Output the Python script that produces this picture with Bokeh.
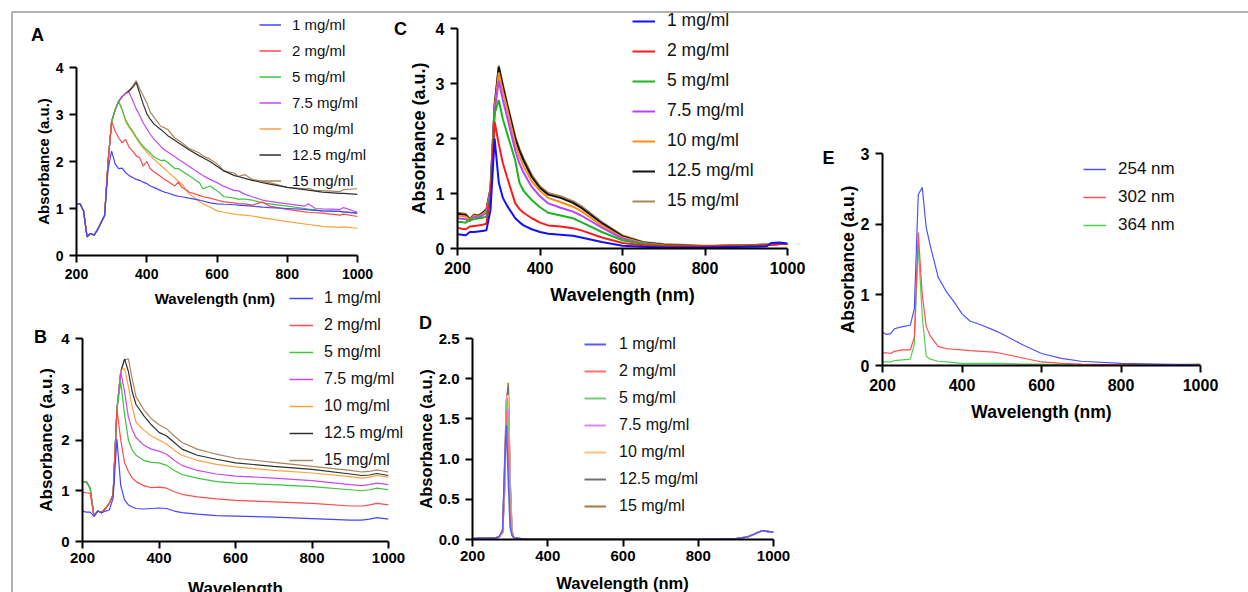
from bokeh.plotting import figure
from bokeh.models import (Range1d, FixedTicker, Legend, LegendItem,
                          BoxAnnotation, Label, NumeralTickFormatter)
from bokeh.embed import file_html
from bokeh.resources import INLINE

# ------------------------------------------------------------------ data
CONC = ["1 mg/ml", "2 mg/ml", "5 mg/ml", "7.5 mg/ml", "10 mg/ml", "12.5 mg/ml", "15 mg/ml"]
EXC = ["254 nm", "302 nm", "364 nm"]
X_TICKS = [200, 400, 600, 800, 1000]
Y_TICKS_4 = [0, 1, 2, 3, 4]
Y_TICKS_D = [0, 0.5, 1.0, 1.5, 2.0, 2.5]
Y_TICKS_E = [0, 1, 2, 3]

# Panel A
A_wl = [200, 210, 220, 230, 240, 250, 260, 270, 280, 290, 300, 310, 320, 330, 340, 350, 360, 370, 380, 390,
        400, 410, 420, 440, 450, 460, 480, 490, 500, 520, 550, 560, 580, 600, 620, 650, 660, 680, 700, 730,
        750, 800, 850, 860, 880, 900, 950, 960, 1000]
A_1 = [1.10, 1.10, 0.95, 0.40, 0.47, 0.43, 0.55, 0.70, 0.85, 1.85, 2.22, 1.95, 1.85, 1.86, 1.76, 1.70, 1.66, 1.62, 1.60, 1.56,
       1.53, 1.48, 1.45, 1.38, 1.35, 1.33, 1.28, 1.26, 1.25, 1.22, 1.18, 1.16, 1.12, 1.10, 1.09, 1.08, 1.07, 1.06, 1.05, 1.03,
       1.02, 1.00, 0.98, 0.97, 0.96, 0.95, 0.94, 0.93, 0.90]
A_2 = [1.10, 1.10, 0.95, 0.40, 0.47, 0.43, 0.55, 0.70, 0.85, 2.00, 2.85, 2.65, 2.50, 2.40, 2.47, 2.30, 2.22, 2.12, 2.08, 1.90,
       2.00, 1.85, 1.78, 1.68, 1.62, 1.58, 1.48, 1.56, 1.45, 1.35, 1.28, 1.25, 1.22, 1.18, 1.14, 1.12, 1.10, 1.10, 1.07, 1.14,
       1.05, 0.98, 0.93, 0.92, 0.91, 0.90, 0.86, 0.88, 0.83]
A_5 = [1.10, 1.10, 0.95, 0.40, 0.47, 0.43, 0.55, 0.70, 0.85, 2.00, 2.85, 3.10, 3.28, 3.10, 2.88, 2.75, 2.65, 2.52, 2.42, 2.32,
       2.25, 2.18, 2.10, 2.02, 2.03, 1.98, 1.85, 1.85, 1.80, 1.70, 1.55, 1.42, 1.48, 1.38, 1.25, 1.22, 1.20, 1.20, 1.18, 1.12,
       1.10, 1.05, 1.00, 0.99, 0.97, 0.95, 0.94, 0.93, 0.90]
A_75 = [1.10, 1.10, 0.95, 0.40, 0.47, 0.43, 0.55, 0.70, 0.85, 2.00, 2.85, 3.10, 3.28, 3.38, 3.45, 3.47, 3.30, 3.12, 2.98, 2.82,
        2.70, 2.58, 2.48, 2.32, 2.25, 2.20, 2.10, 2.05, 2.00, 1.90, 1.75, 1.70, 1.62, 1.55, 1.47, 1.38, 1.38, 1.30, 1.25, 1.18,
        1.15, 1.10, 1.05, 1.10, 1.00, 0.99, 0.98, 1.02, 0.92]
A_10 = [1.10, 1.10, 0.95, 0.40, 0.47, 0.43, 0.55, 0.70, 0.85, 2.00, 2.85, 3.10, 3.28, 3.10, 2.85, 2.72, 2.62, 2.50, 2.38, 2.28,
        2.20, 2.12, 2.05, 1.92, 1.85, 1.78, 1.65, 1.58, 1.52, 1.32, 1.15, 1.10, 1.03, 0.95, 0.92, 0.88, 0.87, 0.86, 0.84, 0.80,
        0.78, 0.72, 0.67, 0.66, 0.64, 0.62, 0.60, 0.61, 0.58]
A_125 = [1.10, 1.10, 0.95, 0.40, 0.47, 0.43, 0.55, 0.70, 0.85, 2.00, 2.85, 3.10, 3.28, 3.38, 3.45, 3.50, 3.58, 3.68, 3.45, 3.22,
         3.02, 2.90, 2.80, 2.68, 2.62, 2.55, 2.45, 2.40, 2.35, 2.25, 2.12, 2.08, 2.00, 1.90, 1.80, 1.70, 1.68, 1.64, 1.60, 1.55,
         1.52, 1.45, 1.40, 1.39, 1.37, 1.35, 1.32, 1.32, 1.30]
A_15 = [1.10, 1.10, 0.95, 0.40, 0.47, 0.43, 0.55, 0.70, 0.85, 2.00, 2.85, 3.10, 3.28, 3.38, 3.45, 3.52, 3.60, 3.72, 3.55, 3.40,
        3.25, 3.05, 2.95, 2.75, 2.72, 2.68, 2.50, 2.45, 2.40, 2.28, 2.18, 2.12, 2.05, 1.95, 1.80, 1.75, 1.68, 1.72, 1.62, 1.58,
        1.55, 1.45, 1.42, 1.43, 1.38, 1.38, 1.36, 1.40, 1.42]

# Panel B
B_wl = [200, 210, 220, 230, 240, 250, 260, 270, 280, 290, 300, 310, 320, 330, 340, 360, 380, 400, 420, 440,
        460, 500, 550, 600, 700, 800, 900, 930, 950, 970, 1000]
B_1 = [0.60, 0.58, 0.58, 0.50, 0.60, 0.56, 0.60, 0.62, 0.85, 2.02, 1.10, 0.82, 0.72, 0.68, 0.65, 0.64, 0.65, 0.66, 0.65, 0.60,
       0.57, 0.54, 0.51, 0.50, 0.48, 0.45, 0.42, 0.42, 0.44, 0.47, 0.44]
B_2 = [0.97, 0.96, 0.95, 0.50, 0.60, 0.57, 0.65, 0.75, 0.92, 2.60, 2.00, 1.55, 1.38, 1.25, 1.18, 1.10, 1.06, 1.07, 1.05, 0.98,
       0.93, 0.88, 0.84, 0.81, 0.78, 0.75, 0.70, 0.70, 0.72, 0.75, 0.72]
B_5 = [1.18, 1.18, 1.05, 0.50, 0.60, 0.57, 0.65, 0.75, 0.92, 2.60, 3.15, 2.50, 2.00, 1.80, 1.70, 1.60, 1.56, 1.55, 1.50, 1.40,
       1.32, 1.25, 1.18, 1.15, 1.12, 1.08, 1.02, 1.00, 1.02, 1.05, 1.02]
B_75 = [1.18, 1.18, 1.05, 0.50, 0.60, 0.57, 0.65, 0.75, 0.92, 2.60, 3.35, 2.95, 2.45, 2.20, 2.05, 1.90, 1.82, 1.78, 1.72, 1.60,
        1.50, 1.40, 1.33, 1.29, 1.25, 1.20, 1.12, 1.10, 1.12, 1.15, 1.12]
B_10 = [1.18, 1.18, 1.05, 0.50, 0.60, 0.57, 0.65, 0.75, 0.92, 2.60, 3.38, 3.40, 3.05, 2.65, 2.35, 2.20, 2.08, 2.00, 1.92, 1.80,
        1.70, 1.60, 1.52, 1.47, 1.40, 1.35, 1.28, 1.25, 1.27, 1.30, 1.27]
B_125 = [1.18, 1.18, 1.05, 0.50, 0.60, 0.57, 0.65, 0.75, 0.92, 2.60, 3.35, 3.60, 3.35, 2.95, 2.70, 2.48, 2.30, 2.15, 2.08, 1.95,
         1.82, 1.70, 1.62, 1.55, 1.48, 1.42, 1.33, 1.30, 1.31, 1.34, 1.30]
B_15 = [1.18, 1.18, 1.05, 0.50, 0.60, 0.57, 0.65, 0.75, 0.92, 2.60, 3.35, 3.58, 3.60, 3.20, 2.85, 2.60, 2.42, 2.30, 2.22, 2.08,
        1.95, 1.82, 1.72, 1.64, 1.56, 1.48, 1.40, 1.37, 1.38, 1.41, 1.37]

# Panel C
C_wl = [200, 210, 220, 230, 240, 250, 260, 270, 280, 290, 300, 310, 320, 340, 350, 360, 380, 400, 420, 450,
        480, 500, 550, 600, 650, 700, 800, 900, 950, 960, 980, 1000]
C_1 = [0.26, 0.25, 0.24, 0.30, 0.30, 0.31, 0.32, 0.33, 0.70, 2.00, 1.20, 0.92, 0.78, 0.55, 0.48, 0.42, 0.35, 0.30, 0.27, 0.25,
       0.23, 0.20, 0.12, 0.05, 0.03, 0.02, 0.02, 0.03, 0.04, 0.10, 0.11, 0.09]
C_2 = [0.38, 0.36, 0.35, 0.40, 0.41, 0.42, 0.43, 0.45, 0.95, 2.30, 1.90, 1.55, 1.30, 0.82, 0.72, 0.65, 0.55, 0.47, 0.42, 0.40,
       0.37, 0.33, 0.20, 0.10, 0.06, 0.04, 0.04, 0.05, 0.06, 0.07, 0.08, 0.08]
C_5 = [0.48, 0.48, 0.47, 0.52, 0.53, 0.55, 0.56, 0.58, 1.00, 2.45, 2.70, 2.35, 2.10, 1.60, 1.20, 1.05, 0.88, 0.75, 0.65, 0.60,
       0.55, 0.48, 0.30, 0.15, 0.08, 0.05, 0.04, 0.06, 0.07, 0.07, 0.08, 0.08]
C_75 = [0.55, 0.54, 0.53, 0.50, 0.58, 0.56, 0.60, 0.65, 1.05, 2.50, 3.05, 2.70, 2.40, 1.78, 1.55, 1.38, 1.12, 0.95, 0.82, 0.74,
        0.67, 0.60, 0.38, 0.18, 0.09, 0.05, 0.04, 0.06, 0.07, 0.07, 0.08, 0.08]
C_10 = [0.60, 0.59, 0.58, 0.52, 0.60, 0.58, 0.62, 0.68, 1.05, 2.55, 3.20, 2.85, 2.55, 1.90, 1.68, 1.50, 1.22, 1.05, 0.92, 0.84,
        0.76, 0.68, 0.42, 0.20, 0.10, 0.06, 0.04, 0.06, 0.07, 0.07, 0.08, 0.08]
C_125 = [0.63, 0.62, 0.61, 0.53, 0.61, 0.59, 0.64, 0.70, 1.08, 2.60, 3.30, 2.95, 2.62, 2.00, 1.78, 1.60, 1.30, 1.10, 0.98, 0.92,
         0.83, 0.74, 0.46, 0.22, 0.11, 0.07, 0.04, 0.06, 0.07, 0.07, 0.08, 0.08]
C_15 = [0.65, 0.64, 0.63, 0.54, 0.62, 0.60, 0.65, 0.72, 1.10, 2.62, 3.33, 2.98, 2.66, 2.04, 1.82, 1.64, 1.34, 1.13, 1.01, 0.95,
        0.86, 0.77, 0.48, 0.24, 0.12, 0.08, 0.05, 0.06, 0.07, 0.07, 0.08, 0.08]

# Panel D
D_wl = [200, 220, 240, 260, 270, 280, 285, 290, 295, 300, 305, 310, 330, 350, 400, 800, 900, 930, 950, 970, 985, 1000]
D_1 = [0.01, 0.02, 0.02, 0.02, 0.03, 0.12, 0.90, 1.42, 0.75, 0.15, 0.05, 0.02, 0.01, 0.00, 0.00, 0.00, 0.01, 0.03, 0.07, 0.11, 0.10, 0.09]
D_2 = [0.01, 0.02, 0.02, 0.02, 0.03, 0.10, 0.80, 1.60, 1.20, 0.30, 0.06, 0.02, 0.01, 0.00, 0.00, 0.00, 0.01, 0.03, 0.07, 0.11, 0.10, 0.09]
D_5 = [0.01, 0.02, 0.02, 0.02, 0.03, 0.10, 0.75, 1.72, 1.45, 0.45, 0.07, 0.02, 0.01, 0.00, 0.00, 0.00, 0.01, 0.03, 0.07, 0.11, 0.10, 0.09]
D_75 = [0.01, 0.02, 0.02, 0.02, 0.03, 0.10, 0.70, 1.76, 1.60, 0.55, 0.08, 0.02, 0.01, 0.00, 0.00, 0.00, 0.01, 0.03, 0.07, 0.11, 0.10, 0.09]
D_10 = [0.01, 0.02, 0.02, 0.02, 0.03, 0.09, 0.65, 1.75, 1.80, 0.65, 0.09, 0.02, 0.01, 0.00, 0.00, 0.00, 0.01, 0.03, 0.07, 0.11, 0.10, 0.09]
D_125 = [0.01, 0.02, 0.02, 0.02, 0.03, 0.09, 0.60, 1.70, 1.90, 0.70, 0.10, 0.02, 0.01, 0.00, 0.00, 0.00, 0.01, 0.03, 0.07, 0.11, 0.10, 0.09]
D_15 = [0.01, 0.02, 0.02, 0.02, 0.03, 0.08, 0.55, 1.65, 1.95, 0.75, 0.10, 0.02, 0.01, 0.00, 0.00, 0.00, 0.01, 0.03, 0.07, 0.11, 0.10, 0.09]

# Panel E
E_wl = [200, 210, 220, 230, 250, 270, 280, 290, 300, 310, 320, 340, 360, 380, 400, 420, 450, 480, 500, 550,
        600, 650, 700, 800, 900, 1000]
E_254 = [0.47, 0.44, 0.45, 0.52, 0.55, 0.57, 0.80, 2.42, 2.52, 1.95, 1.70, 1.25, 1.05, 0.90, 0.73, 0.63, 0.57, 0.50, 0.45, 0.30,
         0.17, 0.10, 0.06, 0.03, 0.02, 0.01]
E_302 = [0.18, 0.18, 0.17, 0.20, 0.22, 0.22, 0.40, 1.88, 1.00, 0.55, 0.42, 0.27, 0.24, 0.23, 0.22, 0.21, 0.20, 0.19, 0.17, 0.11,
         0.05, 0.03, 0.02, 0.01, 0.01, 0.02]
E_364 = [0.05, 0.05, 0.05, 0.07, 0.08, 0.09, 0.30, 1.70, 0.70, 0.13, 0.09, 0.06, 0.05, 0.04, 0.03, 0.03, 0.03, 0.03, 0.03, 0.02,
         0.02, 0.01, 0.01, 0.01, 0.01, 0.01]

# ------------------------------------------------------------------ styling
W, H = 1248, 592
FONT = "Liberation Sans"
COL_A = ["#4646ff", "#ff4a4a", "#3cc43c", "#c24cf2", "#ffa040", "#303030", "#a8865e"]
COL_C = ["#1010ff", "#ff1a1a", "#1cb41c", "#b444ff", "#ff8c10", "#101010", "#a8875a"]
COL_D = ["#5a5aff", "#ff7070", "#70d070", "#d68cff", "#ffc080", "#707070", "#a87838"]
COL_E = ["#5050ff", "#ff5050", "#50d050"]


def page_figure():
    """Full-page transparent figure whose data units are page pixels (y downwards)."""
    f = figure(width=W, height=H, x_range=Range1d(0, W), y_range=Range1d(H, 0),
               output_backend="svg", toolbar_location=None,
               min_border_left=0, min_border_right=0, min_border_top=0, min_border_bottom=0)
    f.axis.visible = False
    f.xgrid.visible = False
    f.ygrid.visible = False
    f.outline_line_color = None
    f.border_fill_color = None
    f.background_fill_color = None
    return f


def panel(frame, ylim, yticks, xlabel, ylabel, wl, series, colors, lw,
          tick_fs, lab_fs, ystand, xstand, yfmt=None):
    x0, y0, x1, y1 = frame
    p = figure(width=W, height=H, x_range=Range1d(200, 1000), y_range=Range1d(*ylim),
               output_backend="svg", toolbar_location=None,
               min_border_left=x0, min_border_right=W - x1,
               min_border_top=y0, min_border_bottom=H - y1)
    p.margin = (-H, 0, 0, 0)
    p.border_fill_color = None
    p.background_fill_color = None
    p.outline_line_color = None
    p.xgrid.visible = False
    p.ygrid.visible = False
    p.xaxis.ticker = FixedTicker(ticks=X_TICKS)
    p.yaxis.ticker = FixedTicker(ticks=yticks)
    if yfmt:
        p.yaxis.formatter = NumeralTickFormatter(format=yfmt)
    for ax in (p.xaxis, p.yaxis):
        ax.axis_line_width = 2
        ax.axis_line_color = "black"
        ax.major_tick_line_width = 2
        ax.major_tick_out = 7
        ax.major_tick_in = 0
        ax.minor_tick_line_color = None
        ax.major_label_text_font = FONT
        ax.major_label_text_font_style = "bold"
        ax.major_label_text_font_size = f"{tick_fs}px"
        ax.major_label_text_color = "black"
        ax.axis_label_text_font = FONT
        ax.axis_label_text_font_style = "bold"
        ax.axis_label_text_font_size = f"{lab_fs}px"
        ax.axis_label_text_color = "black"
    if xlabel:
        p.xaxis.axis_label = xlabel
    p.yaxis.axis_label = ylabel
    p.yaxis.major_label_standoff = ystand[0]
    p.yaxis.axis_label_standoff = ystand[1]
    p.xaxis.major_label_standoff = xstand[0]
    p.xaxis.axis_label_standoff = xstand[1]
    for i in reversed(range(len(series))):
        p.line(wl, series[i], line_color=colors[i], line_width=lw)
    return p


# background with the outer frame lines
bg = page_figure()
bg.border_fill_color = "white"
bg.add_layout(BoxAnnotation(left=11.5, top=11.5, right=W + 50, bottom=H + 50, fill_color=None,
                            line_color="black", line_width=2))

pA = panel((76, 67, 357, 255), (0, 4), Y_TICKS_4, "Wavelength  (nm)", "Absorbance (a.u.)",
           A_wl, [A_1, A_2, A_5, A_75, A_10, A_125, A_15], COL_A, 1.2, 14, 15, (6, 1), (6, 8))
pB = panel((82, 338, 388, 541), (0, 4), Y_TICKS_4, None, "Absorbance (a.u.)",
           B_wl, [B_1, B_2, B_5, B_75, B_10, B_125, B_15], COL_A, 1.2, 15, 17, (6, 2), (4, 2))
pC = panel((457, 28, 787, 248), (0, 4), Y_TICKS_4, "Wavelength (nm)", "Absorbance (a.u.)",
           C_wl, [C_1, C_2, C_5, C_75, C_10, C_125, C_15], COL_C, 2, 16, 18, (6, 4), (6, 8))
pD = panel((472, 338, 773, 539), (0, 2.5), Y_TICKS_D, None, "Absorbance (a.u.)",
           D_wl, [D_1, D_2, D_5, D_75, D_10, D_125, D_15], COL_D, 1.5, 15, 16.5, (6, 1), (4, 2), yfmt="0.0")
pE = panel((882, 153, 1200, 365), (0, 3), Y_TICKS_E, "Wavelength (nm)", "Absorbance (a.u.)",
           E_wl, [E_254, E_302, E_364], COL_E, 1.2, 16, 17.5, (6, 0), (6, 8))

# overlay: legends, panel letters and the two bottom axis titles (may extend past the plot frames)
ov = page_figure()
ov.margin = (-H, 0, 0, 0)


def add_legend(names, colors, lw, gx, yc0, pitch, h, gw, stand, fs):
    # legend keys: one-point lines (a single point draws no visible segment)
    keys = [ov.line([0], [0], line_color=c, line_width=lw) for c in colors]
    n = len(names)
    bottom = yc0 - h / 2 + n * h + (n - 1) * (pitch - h)
    ov.add_layout(Legend(items=[LegendItem(label=t, renderers=[k]) for t, k in zip(names, keys)],
                         location=(gx, H - bottom), orientation="vertical",
                         padding=0, margin=0, spacing=pitch - h, glyph_height=h, label_height=h,
                         glyph_width=gw, label_standoff=stand,
                         label_text_font=FONT, label_text_font_size=f"{fs}px",
                         label_text_color="#111111",
                         border_line_color=None, background_fill_alpha=0), "center")


add_legend(CONC, COL_A, 1.5, 259, 24.4, 26, 21, 22, 11, 15)
add_legend(CONC, COL_A, 1.5, 289, 298.3, 27, 22, 24, 11, 16)
add_legend(CONC, COL_C, 2, 632, 20.5, 30, 24, 23, 12, 17.5)
add_legend(CONC, COL_D, 2, 584, 343.5, 27, 22, 22, 13, 16)
add_legend(EXC, COL_E, 1.5, 1083, 168.5, 28, 22, 23, 12, 17)

for letter, lx, ly in [("A", 37, 34), ("B", 40, 336), ("C", 400, 28), ("D", 425, 322), ("E", 828, 157)]:
    ov.add_layout(Label(x=lx, y=ly, text=letter, text_font=FONT, text_font_style="bold",
                        text_font_size="18px", text_align="center", text_baseline="middle",
                        text_color="black"))
ov.add_layout(Label(x=235, y=578, text="Wavelength", text_font=FONT, text_font_style="bold",
                    text_font_size="17px", text_align="center", text_baseline="top", text_color="black"))
ov.add_layout(Label(x=622, y=573, text="Wavelength (nm)", text_font=FONT, text_font_style="bold",
                    text_font_size="16.5px", text_align="center", text_baseline="top", text_color="black"))

open("out.html", "w").write(file_html([bg, pA, pB, pC, pD, pE, ov], INLINE))
